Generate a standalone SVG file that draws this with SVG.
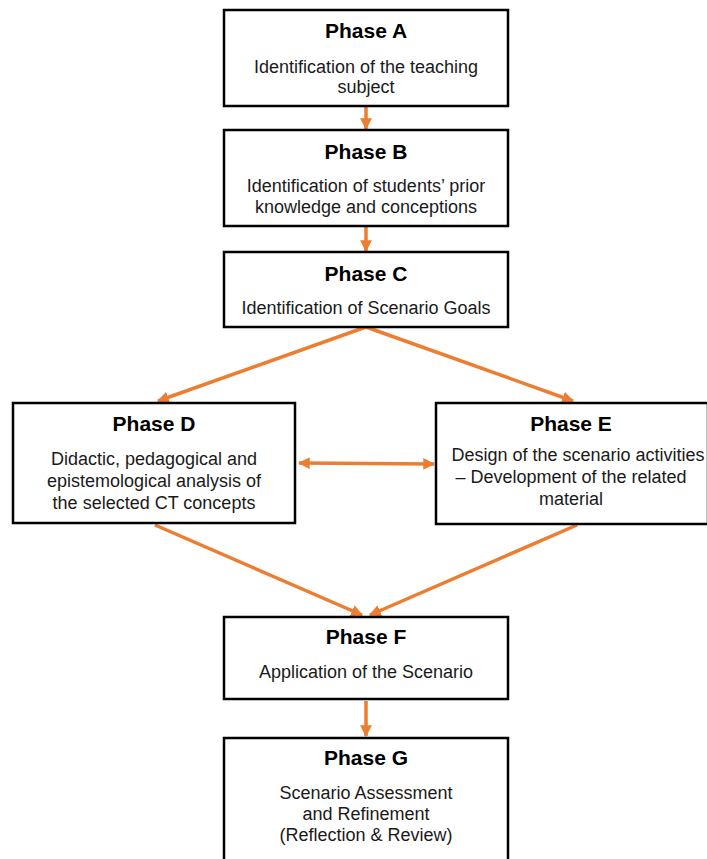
<svg xmlns="http://www.w3.org/2000/svg" width="707" height="859" viewBox="0 0 707 859">
  <style>
    .box { fill: #ffffff; stroke: #000000; stroke-width: 2.5; }
    .title { font-family: "Liberation Sans", Arial, sans-serif; font-size: 21px; font-weight: bold; fill: #000000; text-anchor: middle; }
    .body { font-family: "Liberation Sans", Arial, sans-serif; font-size: 18px; fill: #1a1a1a; text-anchor: middle; }
    .link { stroke: #ED7D31; stroke-width: 3.5; fill: none; }
  </style>
  <defs>
    <marker id="head" viewBox="0 0 10 10" refX="9" refY="5" markerWidth="3.4" markerHeight="3.4" orient="auto-start-reverse" markerUnits="strokeWidth">
      <path d="M0,0 L10,5 L0,10 Z" fill="#ED7D31"/>
    </marker>
  </defs>

  <rect width="707" height="859" fill="#ffffff"/>

  <g id="connectors">
    <line class="link" x1="366" y1="107" x2="366" y2="129" marker-end="url(#head)"/>
    <line class="link" x1="366" y1="227" x2="366" y2="251" marker-end="url(#head)"/>
    <line class="link" x1="366" y1="327" x2="158" y2="401" marker-end="url(#head)"/>
    <line class="link" x1="366" y1="327" x2="573" y2="401" marker-end="url(#head)"/>
    <line class="link" x1="299" y1="463" x2="434" y2="464" marker-start="url(#head)" marker-end="url(#head)"/>
    <line class="link" x1="155" y1="525" x2="362" y2="615" marker-end="url(#head)"/>
    <line class="link" x1="577" y1="525" x2="370" y2="615" marker-end="url(#head)"/>
    <line class="link" x1="366" y1="701" x2="366" y2="736" marker-end="url(#head)"/>
  </g>

  <g id="phase-a">
    <rect class="box" x="224" y="10" width="284" height="96"/>
    <text class="title" x="366" y="38">Phase A</text>
    <text class="body" x="366" y="73">Identification of the teaching</text>
    <text class="body" x="366" y="93">subject</text>
  </g>

  <g id="phase-b">
    <rect class="box" x="224" y="130" width="284" height="96"/>
    <text class="title" x="366" y="159">Phase B</text>
    <text class="body" x="366" y="192">Identification of students’ prior</text>
    <text class="body" x="366" y="213">knowledge and conceptions</text>
  </g>

  <g id="phase-c">
    <rect class="box" x="224" y="252" width="284" height="75"/>
    <text class="title" x="366" y="281">Phase C</text>
    <text class="body" x="366" y="314">Identification of Scenario Goals</text>
  </g>

  <g id="phase-d">
    <rect class="box" x="13" y="403" width="282" height="120"/>
    <text class="title" x="154" y="431">Phase D</text>
    <text class="body" x="154" y="465">Didactic, pedagogical and</text>
    <text class="body" x="154" y="487">epistemological analysis of</text>
    <text class="body" x="154" y="509">the selected CT concepts</text>
  </g>

  <g id="phase-e">
    <rect class="box" x="436" y="403" width="272" height="121"/>
    <text class="title" x="571" y="431">Phase E</text>
    <text class="body" x="578" y="461">Design of the scenario activities</text>
    <text class="body" x="571" y="483">– Development of the related</text>
    <text class="body" x="571" y="505">material</text>
  </g>

  <g id="phase-f">
    <rect class="box" x="224" y="617" width="284" height="82"/>
    <text class="title" x="366" y="644">Phase F</text>
    <text class="body" x="366" y="678">Application of the Scenario</text>
  </g>

  <g id="phase-g">
    <rect class="box" x="224" y="738" width="284" height="130"/>
    <text class="title" x="366" y="765">Phase G</text>
    <text class="body" x="366" y="799">Scenario Assessment</text>
    <text class="body" x="366" y="820">and Refinement</text>
    <text class="body" x="366" y="841">(Reflection &amp; Review)</text>
  </g>
</svg>
